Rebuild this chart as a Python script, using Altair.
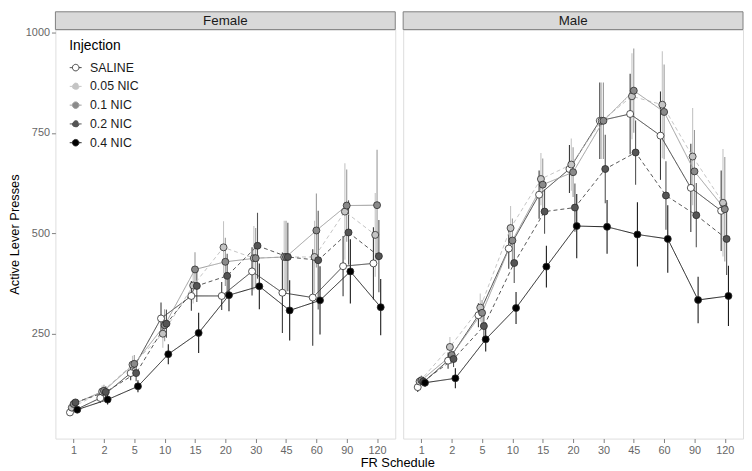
import json
import altair as alt
import pandas as pd

# ---------------- data ----------------
fr_labels = ["1", "2", "5", "10", "15", "20", "30", "45", "60", "90", "120"]
injections = ["SALINE", "0.05 NIC", "0.1 NIC", "0.2 NIC", "0.4 NIC"]

# Female means
female_saline = [54, 90, 152, 288, 344, 344, 405, 352, 340, 418, 425]
female_nic005 = [66, 106, 173, 250, 370, 465, 438, 441, 441, 554, 496]
female_nic01 = [75, 108, 175, 271, 410, 429, 438, 441, 507, 569, 570]
female_nic02 = [79, 105, 152, 275, 369, 394, 469, 441, 433, 502, 443]
female_nic04 = [61, 86, 119, 199, 252, 346, 368, 308, 333, 405, 316]

# Female SEM
female_saline_se = [8, 12, 18, 40, 37, 35, 60, 100, 120, 75, 90]
female_nic005_se = [8, 15, 22, 35, 45, 65, 80, 90, 90, 120, 104]
female_nic01_se = [8, 15, 22, 40, 43, 60, 75, 90, 92, 90, 138]
female_nic02_se = [8, 14, 20, 35, 40, 55, 82, 85, 123, 80, 90]
female_nic04_se = [7, 12, 15, 25, 50, 40, 57, 75, 85, 80, 70]

# Male means
male_saline = [117, 183, 296, 462, 596, 660, 780, 797, 743, 613, 556]
male_nic005 = [131, 217, 315, 513, 635, 671, 780, 841, 820, 691, 576]
male_nic01 = [134, 197, 302, 482, 621, 652, 780, 855, 802, 654, 560]
male_nic02 = [131, 187, 269, 426, 554, 564, 660, 701, 594, 545, 486]
male_nic04 = [128, 139, 236, 314, 417, 518, 516, 497, 486, 334, 344]

# Male SEM
male_saline_se = [12, 20, 30, 50, 60, 60, 95, 100, 110, 110, 100]
male_nic005_se = [12, 25, 35, 55, 65, 65, 95, 107, 133, 121, 134]
male_nic01_se = [12, 22, 32, 55, 65, 62, 95, 105, 118, 103, 130]
male_nic02_se = [12, 20, 30, 50, 55, 60, 85, 80, 85, 80, 90]
male_nic04_se = [10, 25, 30, 40, 52, 80, 67, 80, 84, 58, 75]

# ---------------- styling ----------------
fill_colors = ["#ffffff", "#c4c4c4", "#8a8a8a", "#555555", "#000000"]
line_colors = ["#3a3a3a", "#c4c4c4", "#9a9a9a", "#555555", "#1a1a1a"]
dash_patterns = [[1, 0], [4, 3], [1, 0], [4, 3], [1, 0]]
DODGE = 0.06
W, H = 344, 414
STRIP = 18
GREY = "#7f7f7f"

legend_path = ("M-1,0L-0.55,0M0.55,0L1,0"
               "M0.55,0A0.55,0.55 0 1 1 -0.55,0A0.55,0.55 0 1 1 0.55,0Z")


def build(sex, means, ses):
    rows = []
    for j, inj in enumerate(injections):
        for i, fr in enumerate(fr_labels):
            m, s = means[j][i], ses[j][i]
            rows.append(dict(Sex=sex, Injection=inj, FR=fr,
                             pos=i + (j - 2) * DODGE,
                             mean=m, lo=m - s, hi=m + s))
    return pd.DataFrame(rows)


female_df = build("Female",
                  [female_saline, female_nic005, female_nic01, female_nic02, female_nic04],
                  [female_saline_se, female_nic005_se, female_nic01_se, female_nic02_se, female_nic04_se])
male_df = build("Male",
                [male_saline, male_nic005, male_nic01, male_nic02, male_nic04],
                [male_saline_se, male_nic005_se, male_nic01_se, male_nic02_se, male_nic04_se])

label_expr = json.dumps(fr_labels) + "[round(datum.value)]"


def panel(df, title, show_y, show_legend):
    x = alt.X("pos:Q",
              scale=alt.Scale(domain=[-0.6, len(fr_labels) - 0.4], nice=False, zero=False),
              axis=alt.Axis(values=list(range(len(fr_labels))), labelExpr=label_expr,
                            title=None, grid=False, domain=False, tickSize=4,
                            tickColor=GREY, labelColor="#666666", labelFontSize=11,
                            labelPadding=2, labelOverlap=False, labelFlush=False))
    yaxis = (alt.Axis(values=[250, 500, 750, 1000], format="d", title="Active Lever Presses",
                      grid=False, domain=False, tickSize=4, tickColor=GREY,
                      labelColor="#666666", labelFontSize=11, labelPadding=2,
                      titleFontSize=13, titleFontWeight="normal", titleColor="#000000",
                      titlePadding=4)
             if show_y else None)
    yscale = alt.Scale(domain=[-11, 1007], nice=False, zero=False)

    if show_legend:
        leg = alt.Legend(title="Injection", orient="none", legendX=14, legendY=10,
                         symbolType=legend_path, symbolSize=144, symbolStrokeWidth=1,
                         labelOffset=8, titleFontSize=14, titleFontWeight="normal",
                         titleColor="#000000", labelFontSize=12.5, labelColor="#1a1a1a",
                         padding=0, rowPadding=6, titlePadding=8)
    else:
        leg = None

    stroke = alt.Stroke("Injection:N", scale=alt.Scale(domain=injections, range=line_colors),
                        legend=leg)
    fill = alt.Fill("Injection:N", scale=alt.Scale(domain=injections, range=fill_colors),
                    legend=leg)
    dash = alt.StrokeDash("Injection:N",
                          scale=alt.Scale(domain=injections, range=dash_patterns),
                          legend=None)

    base = alt.Chart(df)
    rules = base.mark_rule(strokeWidth=1.1).encode(
        x=x, y=alt.Y("lo:Q", scale=yscale, axis=yaxis), y2="hi:Q", stroke=stroke)
    lines = base.mark_line(strokeWidth=1).encode(
        x=x, y=alt.Y("mean:Q", scale=yscale, axis=yaxis), stroke=stroke,
        strokeDash=dash, detail="Injection:N")
    points = base.mark_circle(size=50, opacity=1, stroke="#2a2a2a", strokeWidth=0.8).encode(
        x=x, y=alt.Y("mean:Q", scale=yscale, axis=yaxis), fill=fill)

    strip_df = pd.DataFrame({"label": [title]})
    strip = alt.Chart(strip_df).mark_rect(fill="#d9d9d9", stroke=GREY, strokeWidth=1).encode(
        x=alt.value(0), x2=alt.value(W), y=alt.value(-STRIP), y2=alt.value(0))
    strip_text = alt.Chart(strip_df).mark_text(fontSize=13.5, color="#1a1a1a",
                                               baseline="middle", align="center").encode(
        x=alt.value(W / 2), y=alt.value(-STRIP / 2), text="label:N")

    return alt.layer(rules, lines, points, strip, strip_text).properties(width=W, height=H)


female = panel(female_df, "Female", True, True)
male = panel(male_df, "Male", False, False)

chart = alt.hconcat(female, male, spacing=6).resolve_scale(
    fill="independent", stroke="independent", strokeDash="independent"
).resolve_legend(fill="independent", stroke="independent").properties(
    title=alt.TitleParams("FR Schedule", orient="bottom", anchor="middle",
                          fontSize=13, fontWeight="normal", color="#000000",
                          offset=1, dx=22)
).configure_view(stroke=GREY, strokeWidth=1).configure_axis(
    titleFontWeight="normal"
).configure(
    font="Liberation Sans", background="white", padding=0
)

chart.save("out.html", embed_options={"renderer": "svg", "actions": False})
